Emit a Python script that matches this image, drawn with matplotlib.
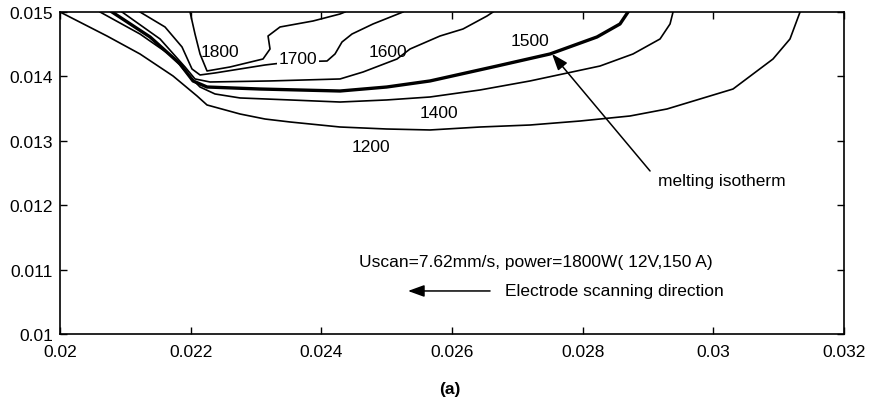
# Isotermas de la pileta de soldadura, corte (a)

import numpy as np
import matplotlib
matplotlib.use('Agg')
import matplotlib.pyplot as plt

plt.rcParams['font.family'] = ['Liberation Sans', 'DejaVu Sans']
plt.rcParams['font.size'] = 12.5

# Isotermas (x, y en m)
x1200 = [0.02000, 0.020719, 0.021224, 0.021730, 0.022097, 0.022250, 0.022755, 0.023138,
         0.023520, 0.024286, 0.025000, 0.025663, 0.026429, 0.027194, 0.027959, 0.028724,
         0.029291, 0.030301, 0.030913, 0.031173, 0.031327]
y1200 = [0.01500, 0.014627, 0.014348, 0.014006, 0.013696, 0.013556, 0.013416, 0.013338,
         0.013292, 0.013214, 0.013183, 0.013168, 0.013214, 0.013245, 0.013307, 0.013385,
         0.013494, 0.013804, 0.014270, 0.014581, 0.01500]

x1400 = [0.020612, 0.021224, 0.021730, 0.021990, 0.022143, 0.022372, 0.022755, 0.023520,
         0.024286, 0.025000, 0.025663, 0.026429, 0.027194, 0.028265, 0.028770, 0.029184,
         0.029337, 0.029383]
y1400 = [0.01500, 0.014658, 0.014301, 0.013991, 0.013835, 0.013727, 0.013665, 0.013634,
         0.013602, 0.013634, 0.013680, 0.013789, 0.013929, 0.014161, 0.014348, 0.014581,
         0.014814, 0.01500]

x1500 = [0.020796, 0.021378, 0.021837, 0.022036, 0.022250, 0.023061, 0.024286, 0.025000,
         0.025663, 0.026689, 0.027500, 0.028219, 0.028571, 0.028694]
y1500 = [0.01500, 0.014612, 0.014193, 0.013929, 0.013835, 0.013804, 0.013773, 0.013835,
         0.013929, 0.014161, 0.014348, 0.014612, 0.014814, 0.01500]

x1600 = [0.020949, 0.021531, 0.021913, 0.022066, 0.022296, 0.023214, 0.024286, 0.024638,
         0.025158, 0.025357, 0.025816, 0.026168, 0.026536, 0.026628]
y1600 = [0.01500, 0.014581, 0.014146, 0.013960, 0.013913, 0.013929, 0.013960, 0.014068,
         0.014270, 0.014425, 0.014627, 0.014736, 0.014938, 0.01500]

x1700 = [0.021224, 0.021607, 0.021867, 0.022020, 0.022143, 0.022372, 0.023138, 0.023520,
         0.024087, 0.024209, 0.024316, 0.024469, 0.024791, 0.025250]
y1700 = [0.01500, 0.014767, 0.014457, 0.014115, 0.014022, 0.014053, 0.014177, 0.014223,
         0.014239, 0.014348, 0.014534, 0.014658, 0.014814, 0.01500]

x1800 = [0.021990, 0.022066, 0.022143, 0.022250, 0.022602, 0.023107, 0.023214, 0.023184,
         0.023367, 0.023872, 0.024286, 0.024362]
y1800 = [0.01500, 0.014658, 0.014348, 0.014084, 0.014146, 0.014270, 0.014425, 0.014627,
         0.014767, 0.014860, 0.014969, 0.01500]

niveles = ['1200', '1400', '1500', '1600', '1700', '1800']
etiqueta_x = [0.024760, 0.025801, 0.027194, 0.025020, 0.023643, 0.022449]
etiqueta_y = [0.012919, 0.013432, 0.014550, 0.014394, 0.014270, 0.014379]

xticks = [0.02, 0.022, 0.024, 0.026, 0.028, 0.03, 0.032]
xticklabels = ['0.02', '0.022', '0.024', '0.026', '0.028', '0.03', '0.032']
yticks = [0.01, 0.011, 0.012, 0.013, 0.014, 0.015]
yticklabels = ['0.01', '0.011', '0.012', '0.013', '0.014', '0.015']

fig, ax = plt.subplots(figsize=(8.75, 4.02), dpi=100)
fig.subplots_adjust(left=0.0686, right=0.9646, top=0.9677, bottom=0.1667)

curvas = [(x1200, y1200), (x1400, y1400), (x1500, y1500),
          (x1600, y1600), (x1700, y1700), (x1800, y1800)]
for nivel, (cx, cy) in zip(niveles, curvas):
    grosor = 2.4 if nivel == '1500' else 1.2   # isoterma de fusion en negrita
    ax.plot(cx, cy, color='black', lw=grosor, solid_joinstyle='round')

for nivel, lx, ly in zip(niveles, etiqueta_x, etiqueta_y):
    caja = dict(facecolor='white', edgecolor='none', pad=1) if nivel == '1700' else None
    ax.text(lx, ly, nivel, ha='center', va='center', bbox=caja)

flecha = dict(arrowstyle='-|>,head_length=0.55,head_width=0.2', color='black', lw=1.1,
              mutation_scale=18, shrinkA=0, shrinkB=0)
ax.annotate('', xy=(0.027531, 0.014348), xytext=(0.029031, 0.012531), arrowprops=flecha)
ax.text(0.030133, 0.012376, 'melting isotherm', ha='center', va='center')

ax.text(0.024576, 0.011118, 'Uscan=7.62mm/s, power=1800W( 12V,150 A)', ha='left', va='center')
ax.annotate('', xy=(0.025326, 0.010668), xytext=(0.026582, 0.010668), arrowprops=flecha)
ax.text(0.026811, 0.010668, 'Electrode scanning direction', ha='left', va='center')

ax.set_xlim(0.02, 0.032)
ax.set_ylim(0.01, 0.015)
ax.set_xticks(xticks)
ax.set_xticklabels(xticklabels)
ax.set_yticks(yticks)
ax.set_yticklabels(yticklabels)
ax.tick_params(direction='in', top=True, right=True, length=5, width=1)
ax.tick_params(axis='x', pad=7.5)
ax.tick_params(axis='y', pad=5)
for s in ax.spines.values():
    s.set_linewidth(1.2)

fig.text(0.514, 0.032, '(a)', ha='center', va='center', fontweight='bold')

plt.savefig('out.png', dpi=100)
